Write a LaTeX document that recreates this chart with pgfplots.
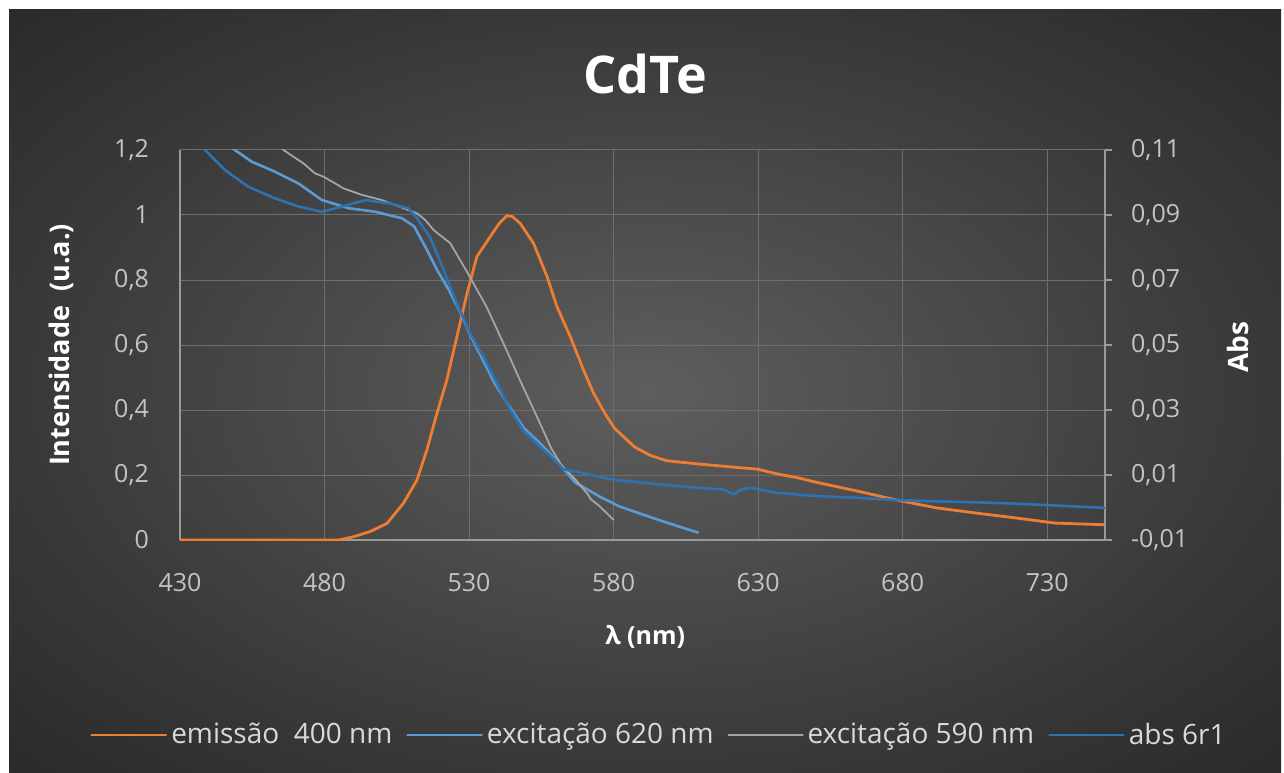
\documentclass[border=0pt]{standalone}
\usepackage{fontspec}
\setmainfont{Open Sans}
\usepackage{pgfplots}
\usepackage{pgfplotstable}
\pgfplotsset{compat=1.18}
\definecolor{bgin}{HTML}{5E5E5E}
\definecolor{bgmid}{HTML}{383838}
\definecolor{bgout}{HTML}{292929}
\definecolor{gridc}{HTML}{6E6E6E}
\definecolor{axisc}{HTML}{9A9A9A}
\definecolor{tickc}{HTML}{C4C4C4}
\definecolor{legc}{HTML}{D9D9D9}
\definecolor{corange}{HTML}{ED7D31}
\definecolor{clblue}{HTML}{5B9BD5}
\definecolor{cgray}{HTML}{A5A5A5}
\definecolor{cdblue}{HTML}{2E72B0}
\pgfdeclareradialshading{bgshade}{\pgfpoint{0bp}{0bp}}{color(0bp)=(bgin); color(25bp)=(bgmid); color(36bp)=(bgout); color(50bp)=(bgout)}

\pgfplotstableread{
x y
430 0
485 0
490 0.010
495.8 0.026
501.6 0.051
507.3 0.113
512 0.185
515.4 0.277
518.9 0.39
522.3 0.492
525.8 0.626
529.3 0.759
532.7 0.872
537.3 0.933
540.5 0.975
543.1 0.998
545 0.995
547.7 0.974
552.3 0.913
557 0.81
560.4 0.718
565 0.626
569.6 0.523
573.1 0.451
577.7 0.379
580.4 0.343
587.3 0.286
592.8 0.26
598.3 0.244
609.2 0.234
623 0.223
629.8 0.218
636.7 0.203
643.5 0.192
650.4 0.177
664.1 0.151
677.9 0.123
691.6 0.099
705.3 0.083
719 0.068
732.8 0.052
750 0.047
}\emission

\pgfplotstableread{
x y
446 1.22
449 1.2
454.8 1.164
462.9 1.133
471 1.097
479.1 1.046
488.3 1.021
497.5 1.01
506.8 0.99
511 0.965
515 0.90
519 0.83
523 0.77
527 0.70
531 0.62
535 0.55
539 0.48
544 0.41
548.9 0.345
554.3 0.30
559.8 0.249
566.7 0.177
574.9 0.135
581.8 0.104
588.6 0.083
595.5 0.062
602.4 0.042
609.2 0.023
}\excA

\pgfplotstableread{
x y
463 1.23
465.8 1.2
472.7 1.159
476.7 1.128
479.6 1.118
483.7 1.097
486.5 1.082
492.9 1.062
499.8 1.046
507.3 1.021
512 1.005
514.8 0.985
517.7 0.954
523.5 0.913
529.3 0.825
536.2 0.715
541.9 0.605
547.7 0.49
553.5 0.379
558.5 0.281
562 0.23
566.7 0.187
570.8 0.144
572.2 0.125
574.9 0.106
577 0.088
580 0.062
}\excB

\pgfplotstableread{
x y
435 0.115
438.7 0.110
445.6 0.1038
453.6 0.0987
462.9 0.0951
471 0.0926
479.1 0.0910
486 0.0926
494.1 0.0946
502.1 0.0936
509 0.0921
512 0.0890
516.6 0.0830
521.2 0.0731
525.8 0.0628
530.4 0.0536
535 0.0464
539.7 0.0382
544.3 0.0300
548.9 0.0235
554.3 0.0190
559.8 0.0145
562.6 0.0118
568.1 0.0108
579 0.0087
595.5 0.0071
609.2 0.0061
618 0.0055
621.6 0.0040
624 0.0055
627.1 0.0061
636.7 0.0045
650.4 0.0035
664.1 0.0030
677.9 0.0023
691.6 0.0019
705.3 0.0016
719 0.0012
732.8 0.0006
750 -0.0001
}\absorb

\pgfplotsset{
  myaxis/.style={
    at={(90pt,116pt)}, anchor=south west, scale only axis,
    width=462.5pt, height=195pt,
    xmin=430, xmax=750,
    tick label style={font=\fontsize{12.5}{14}\selectfont, text=tickc},
    label style={font=\fontsize{12.5}{15}\selectfont\bfseries, text=white},
  },
  noarrows/.style={
    axis line style={-, draw=axisc, line width=0.6pt},
    every non boxed x axis/.append style={x axis line style={-}},
    every non boxed y axis/.append style={y axis line style={-}},
    x axis line style={-}, y axis line style={-},
  },
  every axis plot/.append style={line join=round, line cap=round},
}

\begin{document}
\begin{tikzpicture}
\path[use as bounding box] (0,0) rectangle (642pt,386pt);
\fill[white] (0,0) rectangle (642pt,386pt);
\shade[shading=bgshade] (4.5pt,0) rectangle (640.5pt,381pt);

\begin{axis}[myaxis,
  ymin=0, ymax=1.2,
  axis x line=bottom, axis y line=left,
  noarrows,
  xtick={430,480,530,580,630,680,730},
  xticklabels={430,480,530,580,630,680,730},
  ytick={0,0.2,0.4,0.6,0.8,1,1.2},
  yticklabels={0,{0,2},{0,4},{0,6},{0,8},1,{1,2}},
  major tick length=0pt,
  grid=major, major grid style={draw=gridc, line width=0.5pt},
  yticklabel style={xshift=-12pt},
  xticklabel style={yshift=-13pt},
  xlabel={λ (nm)}, ylabel={Intensidade\ \ (u.a.)},
  xlabel style={at={(axis description cs:0.503,-0.249)}, anchor=center},
  ylabel style={at={(axis description cs:-0.1286,0.5)}, anchor=center, font=\fontsize{13.5}{15}\selectfont\bfseries},
  title={CdTe},
  title style={at={(axis description cs:0.503,1.164)}, anchor=center, font=\fontsize{26}{30}\selectfont\bfseries, text=white},
]
\addplot[no marks, draw=corange, line width=1.4pt] table[x=x,y=y] {\emission};
\addplot[no marks, draw=clblue, line width=1.3pt] table[x=x,y=y] {\excA};
\addplot[no marks, draw=cgray, line width=0.9pt] table[x=x,y=y] {\excB};
\end{axis}

\begin{axis}[myaxis,
  ymin=-0.01, ymax=0.11,
  axis x line=none, axis y line=right,
  noarrows,
  ytick={-0.01,0.01,0.03,0.05,0.07,0.09,0.11},
  yticklabels={{-0,01},{0,01},{0,03},{0,05},{0,07},{0,09},{0,11}},
  tick align=outside, major tick length=3.5pt,
  tick style={draw=axisc, line width=0.6pt},
  yticklabel style={xshift=6pt},
  ylabel={Abs},
  ylabel style={at={(axis description cs:1.1438,0.495)}, anchor=center, rotate=0, font=\fontsize{14}{16}\selectfont\bfseries, text=white},
  legend columns=4,
  legend style={at={(axis description cs:0.519,-0.5)}, anchor=center, draw=none, fill=none, text=legc, font=\fontsize{14}{16}\selectfont, /tikz/every even column/.append style={column sep=5pt}},
  legend image code/.code={\draw[#1] (0pt,0pt) -- (34pt,0pt); \path (0pt,0pt) -- (37pt,0pt);},
]
\addlegendimage{draw=corange, line width=1.4pt}
\addlegendentry{emissão\ \ 400 nm}
\addlegendimage{draw=clblue, line width=1.3pt}
\addlegendentry{excitação 620 nm}
\addlegendimage{draw=cgray, line width=0.9pt}
\addlegendentry{excitação 590 nm}
\addplot[no marks, draw=cdblue, line width=1.3pt] table[x=x,y=y] {\absorb};
\addlegendentry{abs 6r1}
\end{axis}
\end{tikzpicture}
\end{document}
